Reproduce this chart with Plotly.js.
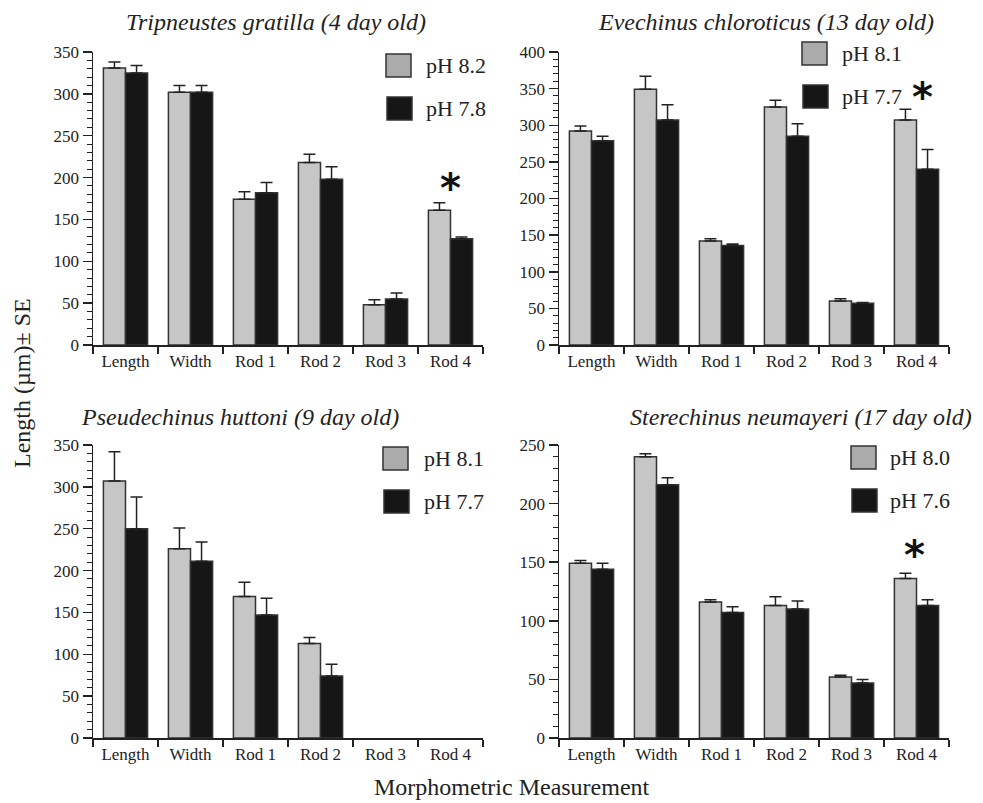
<!DOCTYPE html>
<html>
<head>
<meta charset="utf-8">
<script src="https://cdn.plot.ly/plotly-3.0.1.min.js"></script>
<style>html,body{margin:0;padding:0;background:#fff;}#chart{width:983px;height:803px;}</style>
</head>
<body>
<div id="chart"></div>
<script>
// ---- Data ----
const categories = ["Length", "Width", "Rod 1", "Rod 2", "Rod 3", "Rod 4"];

const panelTitles = [
  "Tripneustes gratilla (4 day old)",
  "Evechinus chloroticus (13 day old)",
  "Pseudechinus huttoni (9 day old)",
  "Sterechinus neumayeri (17 day old)"
];

const controlNames = ["pH 8.2", "pH 8.1", "pH 8.1", "pH 8.0"];
const treatNames   = ["pH 7.8", "pH 7.7", "pH 7.7", "pH 7.6"];

// Tripneustes gratilla
const tgControl   = [331, 302, 174, 218, 48, 161];
const tgControlSE = [7, 8, 9, 10, 6, 9];
const tgTreat     = [325, 302, 182, 198, 55, 127];
const tgTreatSE   = [9, 8, 12, 15, 7, 2];

// Evechinus chloroticus
const ecControl   = [292, 349, 142, 325, 60, 307];
const ecControlSE = [7, 18, 3, 9, 3, 15];
const ecTreat     = [279, 307, 136, 285, 57, 240];
const ecTreatSE   = [6, 21, 2, 17, 1, 27];

// Pseudechinus huttoni
const phControl   = [307, 226, 169, 113, null, null];
const phControlSE = [35, 25, 17, 7, null, null];
const phTreat     = [250, 211, 147, 74, null, null];
const phTreatSE   = [38, 23, 20, 14, null, null];

// Sterechinus neumayeri
const snControl   = [149, 240, 116, 113, 52, 136];
const snControlSE = [2.5, 2.5, 2, 7.5, 1.5, 4.5];
const snTreat     = [144, 216, 107, 110, 47, 113];
const snTreatSE   = [5, 6, 5, 7, 3, 5];

const yMax = [350, 400, 350, 250];

// significance markers: [panel, category, y]
const sigMarks = [
  [0, "Rod 4", 194],
  [1, "Rod 4", 345],
  [3, "Rod 4", 160]
];

const xTitle = "Morphometric Measurement";
const yTitle = "Length (µm)± SE";

// ---- Layout helpers ----
const W = 983, H = 803;
const px = x => x / W;
const py = y => 1 - y / H;

const GRAY = "#c6c6c6", GRAY_LEG = "#ababab", BLACK = "#161616", EDGE = "#333333";
const SERIF = "Liberation Serif";

const panels = [
  {c: tgControl, cse: tgControlSE, t: tgTreat, tse: tgTreatSE, x0: 93, x1: 483, y0: 52, y1: 345,
   title: [276, 22], leg: [386, 54, 424], sigShift: 0},
  {c: ecControl, cse: ecControlSE, t: ecTreat, tse: ecTreatSE, x0: 559, x1: 949, y0: 52, y1: 345,
   title: [766, 22], leg: [802, 42, 840], sigShift: 6},
  {c: phControl, cse: phControlSE, t: phTreat, tse: phTreatSE, x0: 93, x1: 483, y0: 445, y1: 738,
   title: [240, 417], leg: [383, 447, 422], sigShift: 0},
  {c: snControl, cse: snControlSE, t: snTreat, tse: snTreatSE, x0: 559, x1: 949, y0: 445, y1: 738,
   title: [801, 417], leg: [851, 446, 888], sigShift: -2}
];

const traces = [];
const layout = {
  width: W, height: H, autosize: false,
  margin: {l: 0, r: 0, t: 0, b: 0},
  paper_bgcolor: "#fff", plot_bgcolor: "rgba(0,0,0,0)",
  showlegend: false,
  barmode: "group", bargap: 0.32, bargroupgap: 0,
  annotations: [], shapes: [],
  font: {family: SERIF, color: "#222"}
};

panels.forEach((p, i) => {
  const n = i + 1;
  const xa = n === 1 ? "x" : "x" + n;
  const ya = n === 1 ? "y" : "y" + n;
  const errStyle = (se) => ({type: "data", symmetric: false, array: se,
    arrayminus: se.map(() => 0), thickness: 1.5, width: 6, color: "#222"});
  traces.push({
    type: "bar", x: categories, y: p.c, name: controlNames[i], xaxis: xa, yaxis: ya,
    offsetgroup: "a",
    marker: {color: GRAY, line: {color: EDGE, width: 1.5}},
    error_y: errStyle(p.cse), hoverinfo: "y"
  });
  traces.push({
    type: "bar", x: categories, y: p.t, name: treatNames[i], xaxis: xa, yaxis: ya,
    offsetgroup: "b",
    marker: {color: BLACK, line: {color: EDGE, width: 1.5}},
    error_y: errStyle(p.tse), hoverinfo: "y"
  });

  layout[n === 1 ? "xaxis" : "xaxis" + n] = {
    domain: [px(p.x0), px(p.x1)], anchor: ya,
    type: "category", categoryorder: "array", categoryarray: categories,
    range: [-0.5, 5.5], fixedrange: true,
    showline: true, linecolor: "#222", linewidth: 1.5,
    ticks: "outside", tickson: "boundaries", ticklen: 7, tickwidth: 1.5, tickcolor: "#222",
    showgrid: false, zeroline: false,
    tickfont: {family: SERIF, size: 17, color: "#222"}
  };
  layout[n === 1 ? "yaxis" : "yaxis" + n] = {
    domain: [py(p.y1), py(p.y0)], anchor: xa,
    range: [0, yMax[i]], fixedrange: true, dtick: 50, tick0: 0,
    showline: true, linecolor: "#222", linewidth: 1.5,
    ticks: "outside", ticklen: 9, tickwidth: 1.5, tickcolor: "#222",
    minor: {dtick: 10, ticks: "outside", ticklen: 5, tickwidth: 1, tickcolor: "#222", showgrid: false},
    showgrid: false, zeroline: false,
    tickfont: {family: SERIF, size: 17, color: "#222"}
  };

  // panel title
  layout.annotations.push({
    xref: "paper", yref: "paper", x: px(p.title[0]), y: py(p.title[1]),
    xanchor: "center", yanchor: "middle", showarrow: false,
    text: panelTitles[i],
    font: {family: SERIF, size: 24, style: "italic", color: "#222"}
  });

  // legend (boxes + labels)
  const [lx, ly, tx] = p.leg;
  const bw = 25, bh = 23, gap = 43;
  [[GRAY_LEG, controlNames[i], 0], [BLACK, treatNames[i], 1]].forEach(([col, lab, k]) => {
    const top = ly + k * gap;
    layout.shapes.push({
      type: "rect", xref: "paper", yref: "paper",
      x0: px(lx + k), x1: px(lx + k + bw), y0: py(top + bh), y1: py(top),
      fillcolor: col, line: {color: EDGE, width: 1.5}
    });
    layout.annotations.push({
      xref: "paper", yref: "paper", x: px(tx), y: py(top + bh / 2),
      xanchor: "left", yanchor: "middle", showarrow: false, text: lab,
      font: {family: SERIF, size: 22, color: "#222"}
    });
  });
});

// significance asterisks
sigMarks.forEach(([pi, cat, yv]) => {
  const n = pi + 1;
  layout.annotations.push({
    xref: n === 1 ? "x" : "x" + n, yref: n === 1 ? "y" : "y" + n,
    x: cat, y: yv, xshift: panels[pi].sigShift, yshift: -5,
    xanchor: "center", yanchor: "middle", showarrow: false,
    text: "<b>*</b>", font: {family: "DejaVu Sans", size: 40, color: "#111"}
  });
});

// axis titles
layout.annotations.push({
  xref: "paper", yref: "paper", x: px(22), y: py(383),
  xanchor: "center", yanchor: "middle", showarrow: false, textangle: -90,
  text: yTitle, font: {family: SERIF, size: 24, color: "#222"}
});
layout.annotations.push({
  xref: "paper", yref: "paper", x: px(512), y: py(787),
  xanchor: "center", yanchor: "middle", showarrow: false,
  text: xTitle, font: {family: SERIF, size: 24, color: "#222"}
});

Plotly.newPlot("chart", traces, layout, {staticPlot: true, displayModeBar: false});
</script>
</body>
</html>
